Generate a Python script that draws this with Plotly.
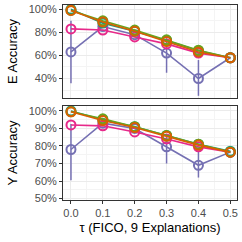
import plotly.graph_objects as go
from plotly.subplots import make_subplots

tau = [0.0, 0.1, 0.2, 0.3, 0.4, 0.5]
series_names = ["purple", "pink", "teal", "green", "orange"]
colors = {"teal": "#1B9E77", "orange": "#D95F02", "purple": "#7570B3",
          "pink": "#E7298A", "green": "#66A61E"}

e_acc = {
    "purple": [0.63, 0.85, 0.78, 0.62, 0.40, 0.58],
    "pink":   [0.83, 0.82, 0.76, 0.70, 0.62, 0.58],
    "teal":   [1.00, 0.88, 0.81, 0.73, 0.64, 0.58],
    "green":  [0.99, 0.90, 0.82, 0.735, 0.645, 0.58],
    "orange": [0.99, 0.89, 0.81, 0.72, 0.63, 0.58],
}
e_err_hi = [0.27, 0.0, 0.0, 0.13, 0.16, 0.0]
e_err_lo = [0.27, 0.0, 0.0, 0.17, 0.15, 0.0]

y_acc = {
    "purple": [0.78, 0.93, 0.90, 0.795, 0.69, 0.765],
    "pink":   [0.92, 0.915, 0.88, 0.84, 0.795, 0.765],
    "teal":   [1.00, 0.95, 0.91, 0.86, 0.81, 0.77],
    "green":  [0.995, 0.955, 0.91, 0.86, 0.81, 0.765],
    "orange": [0.995, 0.945, 0.905, 0.855, 0.805, 0.765],
}
y_err_hi = [0.145, 0.0, 0.0, 0.065, 0.08, 0.0]
y_err_lo = [0.175, 0.0, 0.0, 0.095, 0.07, 0.0]

fig = make_subplots(rows=2, cols=1, shared_xaxes=True)

for row, data, ehi, elo in [(1, e_acc, e_err_hi, e_err_lo), (2, y_acc, y_err_hi, y_err_lo)]:
    for name in series_names:
        c = colors[name]
        err = None
        if name == "purple":
            err = dict(type="data", array=ehi, arrayminus=elo, symmetric=False,
                       color=c, thickness=1.5, width=0)
        fig.add_trace(go.Scatter(
            x=tau, y=data[name], mode="lines+markers",
            line=dict(color=c, width=1.6),
            marker=dict(symbol="circle-open", size=9, color=c, line=dict(width=2, color=c)),
            error_y=err, showlegend=False), row=row, col=1)

grid = "#EBEBEB"
axis_common = dict(showline=True, mirror=True, linecolor="#333333", linewidth=1,
                   ticks="outside", ticklen=3, tickcolor="#333333",
                   tickfont=dict(family="Liberation Sans, Arial", size=11, color="#4D4D4D"),
                   gridcolor=grid, gridwidth=1, zeroline=False)

fig.update_xaxes(**axis_common, range=[-0.025, 0.521], tickvals=tau,
                 ticktext=["0.0", "0.1", "0.2", "0.3", "0.4", "0.5"],
                 minor=dict(dtick=0.05, tick0=0.05, showgrid=True, gridcolor="#F4F4F4", gridwidth=0.6))
fig.update_xaxes(showticklabels=False, ticks="", row=1, col=1)
fig.update_xaxes(title=dict(text="τ (FICO, 9 Explanations)",
                            font=dict(family="Liberation Sans, Arial", size=13, color="black"),
                            standoff=4), row=2, col=1)

fig.update_yaxes(**axis_common)
fig.update_yaxes(range=[0.231, 1.037], tickvals=[0.4, 0.6, 0.8, 1.0],
                 ticktext=["40%", "60%", "80%", "100%"],
                 minor=dict(tickvals=[0.3, 0.5, 0.7, 0.9], showgrid=True, gridcolor="#F4F4F4", gridwidth=0.6),
                 title=dict(text="E Accuracy", font=dict(family="Liberation Sans, Arial", size=13, color="black"), standoff=8),
                 domain=[0.523, 1.0], row=1, col=1)
fig.update_yaxes(range=[0.492, 1.028], tickvals=[0.5, 0.6, 0.7, 0.8, 0.9, 1.0],
                 ticktext=["50%", "60%", "70%", "80%", "90%", "100%"],
                 minor=dict(tickvals=[0.55, 0.65, 0.75, 0.85, 0.95], showgrid=True, gridcolor="#F4F4F4", gridwidth=0.6),
                 title=dict(text="Y Accuracy", font=dict(family="Liberation Sans, Arial", size=13, color="black"), standoff=8),
                 domain=[0.0, 0.482], row=2, col=1)

fig.update_layout(width=242, height=242, margin=dict(l=63, r=5, t=3, b=42),
                  plot_bgcolor="white", paper_bgcolor="white", showlegend=False)

fig.write_html("out.html", config={"displayModeBar": False},
               post_script="document.body.style.margin='0';document.body.style.overflow='hidden';")
